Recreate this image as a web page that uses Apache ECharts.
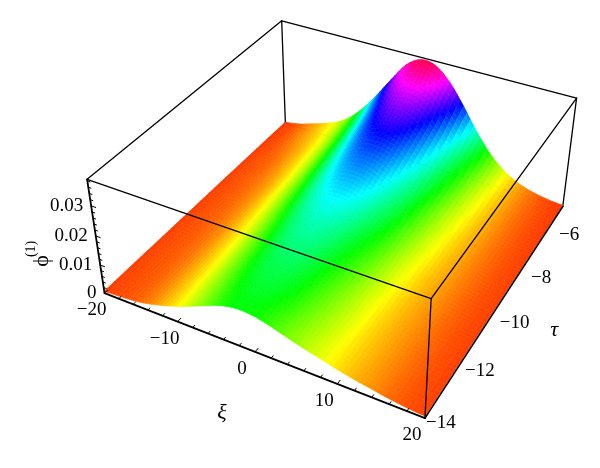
<!DOCTYPE html>
<html><head><meta charset="utf-8">
<style>html,body{margin:0;padding:0;background:#fff}#c{width:600px;height:468px}</style>
<script src="https://cdn.jsdelivr.net/npm/echarts@6/dist/echarts.min.js"></script>
</head><body><div id="c"></div>
<script>
var xiValues=[-20,-18,-16,-14,-12,-10,-8,-6,-4,-2,0,2,4,6,8,10,12,14,16,18,20];
var tauValues=[-14,-13,-12,-11,-10,-9,-8,-7,-6];
var phiTauM14=[.00070,.00100,.00140,.00230,.00370,.00540,.00750,.00970,.01180,.01280,.01250,.01120,.00950,.00790,.00650,.00500,.00380,.00280,.00180,.00110,.00070];
var phiTauM13=[.00071,.00105,.00147,.00240,.00388,.00568,.00802,.01044,.01275,.01406,.01395,.01261,.01050,.00860,.00680,.00510,.00385,.00280,.00183,.00111,.00071];
var phiTauM12=[.00070,.00107,.00153,.00250,.00405,.00600,.00853,.01122,.01385,.01548,.01556,.01400,.01180,.00950,.00720,.00530,.00390,.00285,.00186,.00112,.00070];
var phiTauM11=[.00069,.00110,.00161,.00262,.00427,.00641,.00917,.01219,.01522,.01725,.01758,.01600,.01340,.01080,.00800,.00575,.00410,.00295,.00190,.00113,.00069];
var phiTauM10=[.00070,.00115,.00172,.00280,.00457,.00697,.01005,.01353,.01708,.01966,.02030,.01880,.01590,.01260,.00920,.00640,.00445,.00310,.00198,.00115,.00070];
var phiTauM9=[.00068,.00118,.00182,.00296,.00484,.00752,.01093,.01492,.01906,.02230,.02332,.02190,.01860,.01470,.01050,.00720,.00485,.00325,.00202,.00114,.00068];
var phiTauM8=[.00063,.00119,.00192,.00340,.00530,.00810,.01188,.01647,.02132,.02534,.02687,.02560,.02200,.01720,.01220,.00810,.00530,.00340,.00203,.00111,.00063];
var phiTauM7=[.00057,.00120,.00240,.00380,.00580,.00882,.01307,.01843,.02419,.02923,.03142,.03040,.02630,.02060,.01450,.00940,.00590,.00350,.00202,.00106,.00057];
var phiTauM6=[.00050,.00130,.00280,.00450,.00650,.00980,.01480,.02120,.02820,.03470,.03780,.03700,.03250,.02550,.01780,.01130,.00670,.00370,.00200,.00100,.00050];
var phiRows=[phiTauM14,phiTauM13,phiTauM12,phiTauM11,phiTauM10,phiTauM9,phiTauM8,phiTauM7,phiTauM6];
var xiTickLabels=[-20,-10,0,10,20];
var tauTickLabels=[-14,-12,-10,-8,-6];
var phiTickLabels=[0,0.01,0.02,0.03];

var XI0=-20,XI1=20,TAU0=-14,TAU1=-6,PHI0=0,PHI1=0.0385,HUE_SPAN=0.041,HUE_BASE=0.001;
var SUB_XI=4,SUB_TAU=8,FONT='"Liberation Serif","DejaVu Serif",serif',FS=19;

// camera calibration from the box corners (cube coords -> page)
var viewAnchors=[[0,0,0,105,293.3],[1,0,0,425,418.3],[1,1,0,562.7,206.7],[0,1,0,285,123],
 [0,0,1,86.7,179.3],[1,0,1,431,298.3],[1,1,1,576.7,98.3],[0,1,1,282,21]];
function solve(A,b){var n=b.length,M=A.map(function(r,i){return r.concat(b[i])});
 for(var c=0;c<n;c++){var p=c;for(var r=c+1;r<n;r++)if(Math.abs(M[r][c])>Math.abs(M[p][c]))p=r;
  var t=M[c];M[c]=M[p];M[p]=t;
  for(r=0;r<n;r++)if(r!==c){var f=M[r][c]/M[c][c];for(var k=c;k<=n;k++)M[r][k]-=f*M[c][k];}}
 return M.map(function(r,i){return r[n]/r[i]});}
var cam=(function(){var rows=[],rhs=[];viewAnchors.forEach(function(a){var u=a[0],v=a[1],w=a[2],x=a[3],y=a[4];
  rows.push([u,v,w,1,0,0,0,0,-x*u,-x*v,-x*w]);rhs.push(x);
  rows.push([0,0,0,0,u,v,w,1,-y*u,-y*v,-y*w]);rhs.push(y);});
 var N=[],B=[];for(var i=0;i<11;i++){N.push([]);var s=0;for(var j=0;j<11;j++){var t=0;rows.forEach(function(r){t+=r[i]*r[j]});N[i].push(t);}
  rows.forEach(function(r,k){s+=r[i]*rhs[k]});B.push(s);}
 return solve(N,B);})();
function project(xi,tau,phi){var u=(xi-XI0)/(XI1-XI0),v=(tau-TAU0)/(TAU1-TAU0),w=(phi-PHI0)/(PHI1-PHI0),c=cam;
 var d=c[8]*u+c[9]*v+c[10]*w+1;
 return [(c[0]*u+c[1]*v+c[2]*w+c[3])/d,(c[4]*u+c[5]*v+c[6]*w+c[7])/d];}

function hueColor(phi){var h=(phi+HUE_BASE)/HUE_SPAN;h=(h%1+1)%1;var i=Math.floor(h*6),f=h*6-i,v=[[1,f,0],[1-f,1,0],[0,1,f],[0,1-f,1],[f,0,1],[1,0,1-f]][i%6];
 return 'rgb('+Math.round(v[0]*255)+','+Math.round(v[1]*255)+','+Math.round(v[2]*255)+')';}
function cr(a,b,c,d,t){return 0.5*(2*b+(c-a)*t+(2*a-5*b+4*c-d)*t*t+(3*b-a-3*c+d)*t*t*t);}
function cl(i,n){return i<0?0:(i>=n?n-1:i);}
function smoothPhi(fx,ft){ // display smoothing of the table between its grid lines
 var nx=xiValues.length,nt=tauValues.length;
 var i=Math.min(Math.floor(fx),nx-2),j=Math.min(Math.floor(ft),nt-2),tx=fx-i,tt=ft-j,q=[];
 for(var b=-1;b<=2;b++){var r=phiRows[cl(j+b,nt)];q.push(cr(r[cl(i-1,nx)],r[cl(i,nx)],r[cl(i+1,nx)],r[cl(i+2,nx)],tx));}
 return Math.max(0,cr(q[0],q[1],q[2],q[3],tt));}
function xiAt(fx){var i=Math.min(Math.floor(fx),xiValues.length-2);return xiValues[i]+(xiValues[i+1]-xiValues[i])*(fx-i);}
function tauAt(ft){var j=Math.min(Math.floor(ft),tauValues.length-2);return tauValues[j]+(tauValues[j+1]-tauValues[j])*(ft-j);}

var cells=[];
(function(){var nx=(xiValues.length-1)*SUB_XI,nt=(tauValues.length-1)*SUB_TAU;
 for(var j=nt-1;j>=0;j--)for(var i=0;i<nx;i++)cells.push([i,j]);})();

function at(api,xi,tau,phi){return api.coord(project(xi,tau,phi));}
function edgeItem(list){return function(params,api){var e=list[params.dataIndex];
 return {type:'line',silent:true,shape:(function(){var a=at(api,e[0],e[1],e[2]),b=at(api,e[3],e[4],e[5]);return {x1:a[0],y1:a[1],x2:b[0],y2:b[1]};})(),
  style:{stroke:'#000',lineWidth:e[6]||1.3,lineCap:'round'}};};}

var backEdges=[[XI0,TAU1,PHI1,XI1,TAU1,PHI1],[XI0,TAU0,PHI1,XI0,TAU1,PHI1],[XI0,TAU1,PHI0,XI0,TAU1,PHI1],[XI1,TAU1,PHI0,XI1,TAU1,PHI1],
 [XI0,TAU0,PHI0,XI0,TAU1,PHI0],[XI0,TAU1,PHI0,XI1,TAU1,PHI0]];
var frontEdges=[[XI0,TAU0,PHI1,XI1,TAU0,PHI1],[XI1,TAU0,PHI1,XI1,TAU1,PHI1],[XI1,TAU0,PHI0,XI1,TAU0,PHI1],
 [XI0,TAU0,PHI0,XI0,TAU0,PHI1,1.8],[XI0,TAU0,PHI0,XI1,TAU0,PHI0,1.8],[XI1,TAU0,PHI0,XI1,TAU1,PHI0,1.6]];
(function(){for(var x=XI0;x<=XI1;x+=2){var maj=x%10===0;frontEdges.push([x,TAU0,PHI0,x,TAU0+(maj?0.12:0.08),PHI0,1]);}
 for(var p=0;p<=19;p++){var ph=p*0.002,m=p%5===0;frontEdges.push([XI0,TAU0,ph,XI0+(m?0.6:0.35),TAU0,ph,1]);}})();

var labels=[];
xiTickLabels.forEach(function(v){labels.push({t:String(v).replace('-','\u2212'),p:[v,TAU0,PHI0],dx:-13,dy:17,a:'center'});});
tauTickLabels.forEach(function(v){var k=v-TAU0;labels.push({t:String(v).replace('-','\u2212'),p:[XI1,v,PHI0],dx:1-k*0.6,dy:5+k*2.9+k*(8-k)*0.35,a:'left'});});
phiTickLabels.forEach(function(v){labels.push({t:String(v),p:[XI0,TAU0,v],dx:-8,dy:0,a:'right'});});
labels.push({t:'\u03BE',p:[0,TAU0,PHI0],dx:-33,dy:61,a:'center',it:true,fs:22});
labels.push({t:'\u03C4',p:[XI1,-10,PHI0],dx:53,dy:29,a:'center',it:true,fs:22});
labels.push({t:'\u03D5',p:[XI0,TAU0,0.02],dx:-54,dy:25,a:'center',rot:Math.PI/2,fs:22});
labels.push({t:'(1)',p:[XI0,TAU0,0.02],dx:-64,dy:13,a:'center',rot:Math.PI/2,fs:14});

var chart=echarts.init(document.getElementById('c'),null,{renderer:'canvas'});
chart.setOption({animation:false,backgroundColor:'#fff',
 grid:{left:0,right:0,top:0,bottom:0},
 xAxis:{type:'value',min:0,max:600,show:false},
 yAxis:{type:'value',min:0,max:468,inverse:true,show:false},
 series:[
 {type:'custom',coordinateSystem:'cartesian2d',silent:true,z:1,data:backEdges,renderItem:edgeItem(backEdges)},
 {type:'custom',coordinateSystem:'cartesian2d',silent:true,z:2,progressive:0,data:cells,renderItem:function(params,api){
   var c=cells[params.dataIndex],i=c[0],j=c[1],pts=[],sum=0;
   [[i,j],[i+1,j],[i+1,j+1],[i,j+1]].forEach(function(g){var fx=g[0]/SUB_XI,ft=g[1]/SUB_TAU,ph=smoothPhi(fx,ft);sum+=ph;pts.push(at(api,xiAt(fx),tauAt(ft),ph));});
   var col=hueColor(sum/4);
   return {type:'polygon',silent:true,shape:{points:pts},style:{fill:col,stroke:col,lineWidth:0.6}};}},
 {type:'custom',coordinateSystem:'cartesian2d',silent:true,z:3,data:frontEdges,renderItem:edgeItem(frontEdges)},
 {type:'custom',coordinateSystem:'cartesian2d',silent:true,z:4,data:labels.map(function(l,i){return i}),renderItem:function(params,api){
   var l=labels[params.dataIndex],q=at(api,l.p[0],l.p[1],l.p[2]);
   return {type:'text',silent:true,x:q[0]+l.dx,y:q[1]+l.dy,rotation:l.rot||0,
    style:{text:l.t,fill:'#000',font:(l.it?'italic ':'')+(l.fs||FS)+'px '+FONT,textAlign:l.a,textVerticalAlign:'middle'}};}}
 ]});
</script></body></html>
